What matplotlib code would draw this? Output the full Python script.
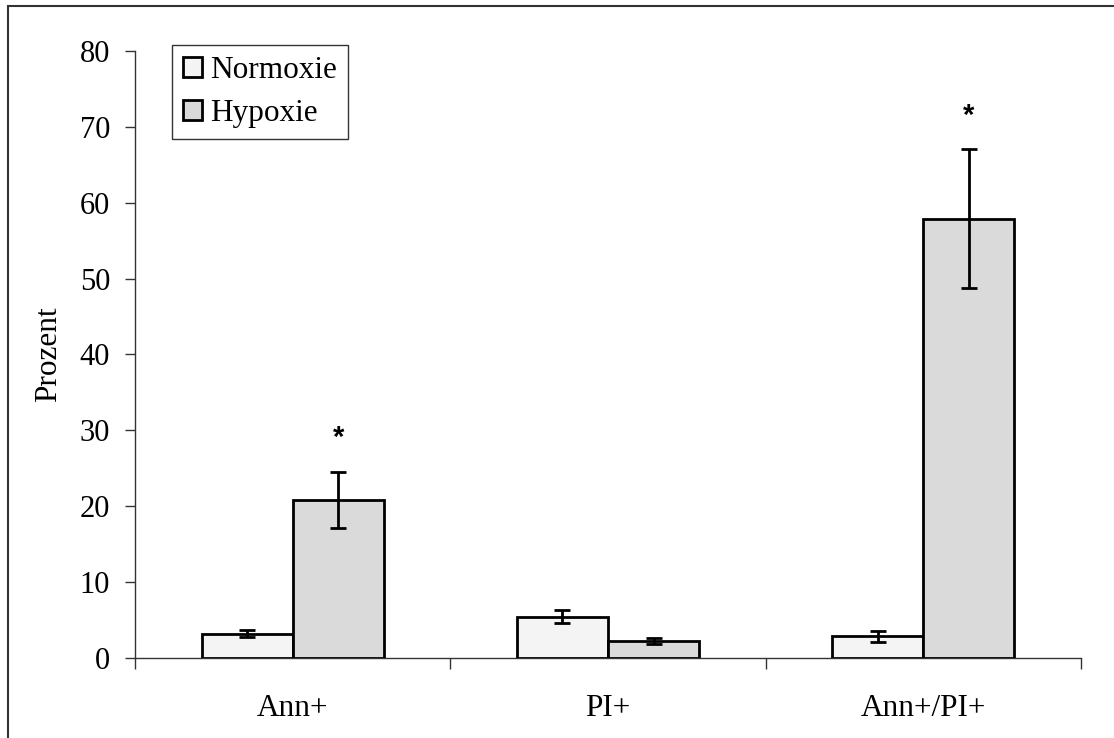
import numpy as np
import matplotlib
matplotlib.use("Agg")
import matplotlib.pyplot as plt
from matplotlib.patches import Rectangle

# Anteil Annexin-/PI-positiver Zellen unter Normoxie und Hypoxie
categories = ["Ann+", "PI+", "Ann+/PI+"]
normoxie = [3.2, 5.45, 2.85]
normoxie_err = [0.48, 0.9, 0.7]
hypoxie = [20.85, 2.25, 57.9]
hypoxie_err = [3.7, 0.43, 9.2]
significant = [True, False, True]  # * über Hypoxie-Balken

plt.rcParams["font.family"] = ["Liberation Serif", "DejaVu Serif"]

fig = plt.figure(figsize=(11.14, 7.38), dpi=100)
ax = fig.add_axes([0.1212, 0.1084, 0.8492, 0.8225])

x = np.arange(len(categories))
w = 0.289

err_kw = dict(ecolor="black", elinewidth=2.0, capsize=5.6, capthick=2.0)
ax.bar(x - w / 2, normoxie, w, color="#f4f4f4", edgecolor="black",
       linewidth=2.0, label="Normoxie", yerr=normoxie_err, error_kw=err_kw, zorder=3)
ax.bar(x + w / 2, hypoxie, w, color="#dadada", edgecolor="black",
       linewidth=2.0, label="Hypoxie", yerr=hypoxie_err, error_kw=err_kw, zorder=3)

for i, sig in enumerate(significant):
    if sig:
        ax.text(x[i] + w / 2, hypoxie[i] + hypoxie_err[i] + 4.4, "*",
                ha="center", va="center", fontsize=21, fontweight="bold",
                family="Liberation Sans")

ax.set_xlim(-0.5, len(categories) - 0.5)
ax.set_ylim(0, 80)
ax.set_yticks(np.arange(0, 81, 10))
ax.set_xticks(x)
ax.set_xticklabels(categories)
ax.set_xticks(np.arange(-0.5, len(categories)), minor=True)

ax.tick_params(axis="y", direction="out", length=7, width=1, color="#333333",
               labelsize=22, pad=11)
ax.tick_params(axis="x", which="major", length=0, labelsize=22.5, pad=26)
ax.tick_params(axis="x", which="minor", direction="out", length=8, width=1,
               color="#333333")

for side in ["top", "right"]:
    ax.spines[side].set_visible(False)
for side in ["left", "bottom"]:
    ax.spines[side].set_color("#333333")
    ax.spines[side].set_linewidth(1)

ax.set_ylabel("Prozent", fontsize=22.5, labelpad=12)

leg = ax.legend(loc="upper left", bbox_to_anchor=(0.039, 1.01), fontsize=22.5,
                frameon=True, fancybox=False, edgecolor="black",
                handlelength=0.62, handleheight=0.62, handletextpad=0.25,
                labelspacing=0.45, borderpad=0.35, borderaxespad=0)
leg.get_frame().set_linewidth(1.0)
for h in leg.legend_handles:
    h.set_linewidth(2.0)

# Rahmen um das Diagramm (nur oben und links sichtbar)
fig.add_artist(Rectangle((8 / 1114, -0.1), 1.2, 1.1 - 6 / 738,
                         transform=fig.transFigure, fill=False,
                         edgecolor="#333333", linewidth=1.5))

fig.savefig("out.png", dpi=100)
